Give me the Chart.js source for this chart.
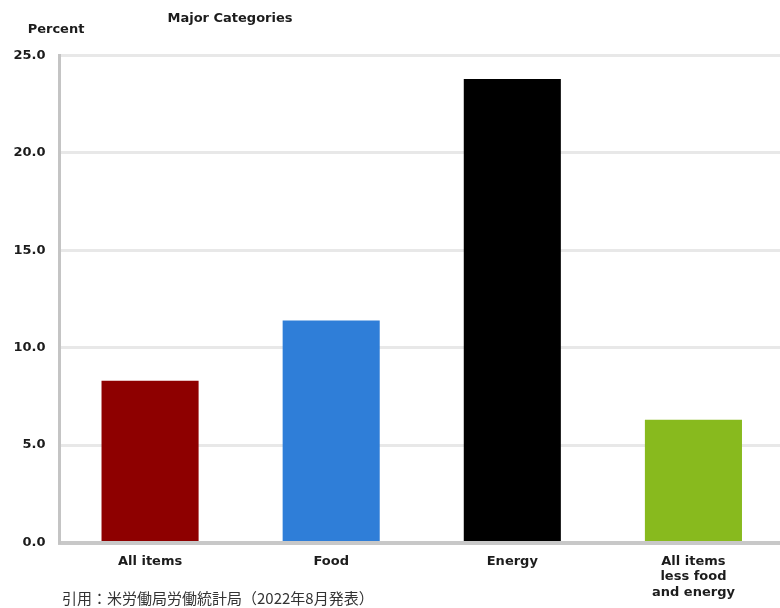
<!DOCTYPE html>
<html lang="ja">
<head>
    <meta charset="UTF-8">
    <title>Major Categories</title>
    <script src="https://cdn.jsdelivr.net/npm/chart.js"></script>
    <style>
        html, body { margin: 0; padding: 0; background: #fff; }
        .frame { position: relative; width: 780px; height: 608px; overflow: hidden; }
        canvas { position: absolute; left: 0; top: 0; }
        .note { position: absolute; white-space: nowrap; color: #1c1c1c; }
        .head { font: bold 13px "DejaVu Sans", sans-serif; transform: translate(-50%, -50%); }
        .source { left: 62px; top: 589px; font: 15px "Noto Sans CJK JP", sans-serif; color: #333; line-height: 18px; }
    </style>
</head>
<body>
    <div class="frame">
        <canvas id="cpiChart" width="784" height="608"></canvas>
        <div class="note head" style="left:230px; top:17px;">Major Categories</div>
        <div class="note head" style="left:56px; top:28px;">Percent</div>
        <div class="note source">引用：米労働局労働統計局（2022年8月発表）</div>
    </div>

    <script>
        // values (12-month % change)
        const categories = ['All items', 'Food', 'Energy', ['All items', 'less food', 'and energy']];
        const changes = [8.3, 11.4, 23.8, 6.3];
        const yMin = 0, yMax = 25, yStep = 5;

        const tickFont = { family: '"DejaVu Sans", sans-serif', size: 13, weight: 'bold' };

        const ctx = document.getElementById('cpiChart').getContext('2d');
        const cpiChart = new Chart(ctx, {
            type: 'bar',
            data: {
                labels: categories,
                datasets: [{
                    data: changes,
                    backgroundColor: ['#8e0000', '#2f7ed8', '#000000', '#88ba1e'],
                    borderWidth: 0,
                    barPercentage: 0.536,
                    categoryPercentage: 1
                }]
            },
            options: {
                responsive: false,
                animation: false,
                layout: { padding: { top: 55.5, left: 0, right: 0, bottom: 0 } },
                plugins: { legend: { display: false }, tooltip: { enabled: false } },
                scales: {
                    x: {
                        grid: { display: false, drawTicks: false },
                        border: { display: true, color: '#c8c8c8', width: 4 },
                        ticks: { color: '#1c1c1c', font: tickFont, padding: 11, maxRotation: 0, autoSkip: false },
                        afterFit: s => { s.height = 65.5; }
                    },
                    y: {
                        min: yMin,
                        max: yMax,
                        grid: { color: '#e8e8e8', lineWidth: 3, drawTicks: false },
                        border: { display: true, color: '#c4c4c4', width: 3 },
                        ticks: {
                            stepSize: yStep,
                            color: '#1c1c1c',
                            font: tickFont,
                            padding: 14,
                            callback: v => v.toFixed(1)
                        },
                        afterFit: s => { s.width = 59.5; }
                    }
                }
            }
        });
    </script>
</body>
</html>
